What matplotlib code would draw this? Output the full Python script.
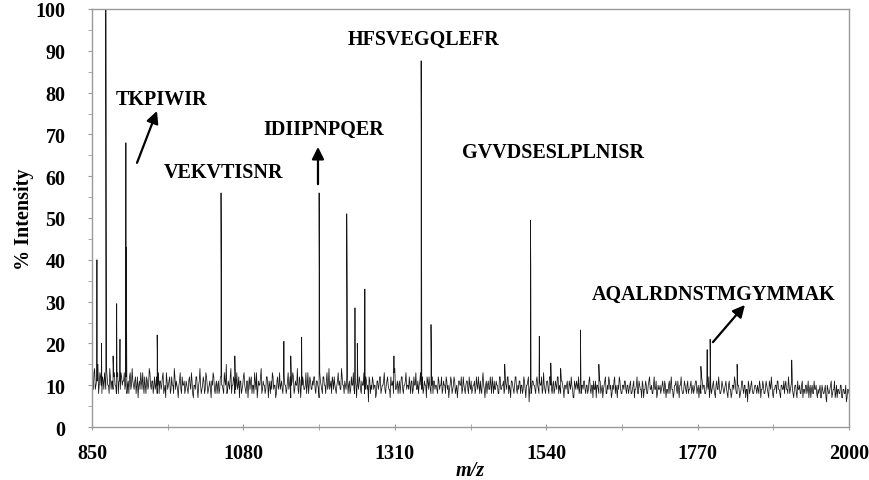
import numpy as np
import matplotlib
matplotlib.use("Agg")
import matplotlib.pyplot as plt

# Baseline noise at even m/z, 850..2000 (rows of 24 values)
baseline_even = [
    12, 9, 14, 10, 11, 8, 13, 10, 12, 9, 11, 14, 10, 8, 12, 11, 9, 13, 10, 12, 8, 11, 13, 10,
    11, 9, 12, 10, 8, 13, 10, 11, 9, 12, 10, 7, 11, 13, 9, 10, 12, 8, 11, 10, 13, 9, 11, 10,
    9, 12, 10, 8, 11, 10, 13, 9, 7, 11, 10, 12, 9, 10, 8, 12, 11, 9, 10, 13, 8, 10, 11, 9,
    10, 8, 12, 9, 11, 7, 10, 12, 9, 10, 14, 8, 10, 11, 9, 12, 8, 10, 9, 11, 13, 9, 10, 8,
    11, 9, 12, 10, 8, 11, 15, 9, 10, 12, 8, 10, 11, 9, 13, 10, 7, 11, 9, 12, 10, 8, 11, 10,
    9, 12, 10, 8, 11, 13, 9, 10, 12, 8, 11, 10, 9, 12, 7, 10, 11, 13, 9, 10, 8, 12, 10, 9,
    11, 8, 12, 10, 9, 13, 10, 7, 11, 12, 9, 10, 14, 8, 11, 10, 12, 9, 10, 8, 13, 10, 11, 9,
    10, 12, 8, 11, 9, 13, 10, 8, 12, 10, 11, 9, 14, 10, 8, 11, 12, 9, 10, 13, 11, 9, 12, 10,
    11, 9, 13, 10, 8, 12, 10, 9, 11, 7, 10, 12, 9, 11, 10, 8, 12, 9, 6, 11, 10, 12, 9, 10,
    8, 11, 10, 12, 9, 10, 13, 8, 11, 10, 9, 12, 10, 8, 14, 9, 11, 10, 8, 12, 9, 10, 11, 9,
    10, 12, 8, 11, 9, 10, 13, 9, 8, 11, 10, 12, 9, 10, 7, 11, 12, 9, 10, 8, 11, 10, 9, 12,
    9, 10, 8, 11, 10, 12, 9, 7, 10, 11, 9, 12, 8, 10, 9, 11, 10, 8, 12, 9, 10, 11, 8, 10,
    11, 9, 10, 8, 12, 9, 10, 11, 8, 13, 9, 10, 8, 11, 9, 10, 12, 8, 9, 11, 10, 8, 12, 9,
    10, 8, 11, 9, 12, 10, 7, 11, 9, 10, 12, 8, 9, 11, 10, 8, 12, 9, 10, 11, 6, 10, 9, 11,
    10, 8, 12, 9, 11, 10, 8, 13, 9, 10, 11, 8, 12, 9, 10, 8, 11, 9, 12, 10, 8, 11, 9, 10,
    9, 11, 8, 10, 12, 9, 7, 10, 11, 9, 8, 12, 10, 9, 11, 8, 10, 9, 12, 8, 10, 11, 9, 7,
    10, 8, 11, 9, 7, 10, 12, 8, 9, 11, 10, 8, 9, 12, 10, 7, 9, 11, 8, 10, 9, 11, 8, 10,
    9, 11, 8, 10, 7, 9, 12, 8, 10, 9, 11, 7, 9, 10, 8, 11, 9, 10, 8, 12, 9, 7, 10, 9,
    8, 10, 9, 11, 7, 9, 10, 8, 12, 9, 8, 10, 9, 11, 7, 10, 9, 8, 11, 9, 10, 8, 9, 11,
    9, 8, 10, 11, 9, 7, 10, 12, 9, 10, 8, 11, 9, 7, 10, 9, 11, 8, 10, 9, 12, 8, 9, 10,
    8, 10, 9, 7, 11, 9, 8, 10, 12, 9, 8, 10, 7, 9, 11, 8, 10, 9, 6, 10, 9, 11, 8, 9,
    10, 8, 9, 11, 7, 9, 10, 8, 11, 9, 7, 10, 12, 8, 9, 10, 8, 11, 9, 7, 10, 9, 8, 11,
    9, 12, 8, 10, 9, 7, 10, 8, 11, 9, 8, 10, 7, 9, 10, 8, 11, 9, 7, 10, 8, 9, 10, 7,
    8, 10, 7, 9, 8, 10, 6, 9, 8, 10, 7, 9, 11, 8, 7, 9, 8, 10, 7, 9, 8, 6, 9, 8,
]

# Baseline noise at odd m/z, 851..1999 (rows of 24 values)
baseline_odd = [
    10, 13, 9, 11, 15, 10, 12, 8, 11, 13, 9, 12, 10, 14, 9, 11, 12, 10, 8, 13, 11, 9, 12, 11,
    13, 10, 8, 11, 12, 9, 14, 10, 11, 8, 12, 10, 9, 11, 13, 8, 10, 12, 9, 14, 10, 11, 8, 12,
    10, 8, 13, 11, 9, 12, 8, 10, 13, 9, 11, 8, 12, 10, 14, 9, 10, 7, 11, 9, 12, 10, 8, 11,
    9, 11, 10, 13, 8, 10, 9, 12, 7, 11, 10, 9, 12, 8, 13, 10, 9, 11, 7, 10, 12, 8, 11, 10,
    8, 12, 10, 9, 13, 10, 8, 11, 9, 14, 10, 12, 8, 10, 9, 12, 11, 8, 10, 13, 9, 11, 7, 12,
    11, 8, 10, 13, 9, 7, 11, 10, 14, 9, 10, 8, 12, 10, 11, 8, 9, 12, 10, 7, 11, 9, 13, 10,
    9, 12, 10, 8, 11, 9, 12, 10, 13, 8, 11, 10, 9, 12, 7, 10, 11, 9, 13, 10, 8, 12, 9, 11,
    12, 9, 11, 10, 7, 11, 9, 12, 10, 8, 13, 10, 9, 11, 12, 9, 10, 8, 11, 10, 9, 14, 10, 8,
    10, 12, 8, 11, 9, 10, 13, 8, 10, 12, 9, 11, 8, 10, 13, 9, 11, 10, 12, 8, 9, 11, 10, 7,
    11, 9, 12, 8, 10, 11, 9, 10, 12, 9, 7, 10, 11, 13, 9, 10, 8, 11, 10, 12, 8, 10, 13, 10,
    9, 10, 11, 8, 12, 10, 9, 11, 10, 13, 9, 8, 11, 10, 12, 9, 10, 8, 12, 11, 9, 10, 8, 11,
    10, 12, 9, 10, 8, 11, 10, 9, 12, 8, 10, 11, 9, 7, 11, 10, 12, 9, 10, 8, 11, 9, 12, 9,
    8, 10, 11, 9, 10, 12, 8, 9, 11, 10, 7, 11, 10, 9, 12, 8, 10, 11, 9, 10, 8, 12, 9, 10,
    11, 9, 10, 12, 8, 9, 11, 10, 8, 12, 9, 10, 11, 8, 10, 9, 11, 7, 10, 12, 9, 8, 11, 10,
    9, 11, 10, 8, 10, 12, 9, 10, 8, 11, 9, 12, 10, 8, 11, 9, 10, 12, 8, 9, 11, 10, 7, 10,
    10, 8, 11, 9, 10, 7, 11, 9, 10, 12, 9, 8, 10, 11, 9, 10, 8, 11, 9, 10, 7, 9, 11, 10,
    9, 11, 8, 10, 9, 11, 8, 10, 12, 9, 7, 10, 11, 8, 9, 10, 12, 9, 8, 10, 11, 9, 10, 8,
    10, 8, 9, 11, 9, 10, 8, 11, 9, 7, 10, 9, 11, 8, 10, 12, 9, 8, 10, 9, 11, 8, 9, 10,
    9, 11, 8, 10, 9, 8, 11, 10, 9, 7, 10, 11, 8, 9, 10, 12, 8, 9, 10, 8, 11, 9, 10, 8,
    10, 9, 11, 8, 10, 9, 8, 11, 10, 8, 9, 10, 12, 9, 8, 10, 9, 7, 11, 9, 10, 8, 11, 9,
    9, 11, 8, 10, 9, 7, 10, 9, 11, 8, 10, 9, 8, 11, 9, 10, 7, 9, 11, 8, 10, 9, 8, 10,
    9, 10, 8, 10, 9, 11, 8, 9, 10, 8, 11, 9, 10, 7, 9, 10, 11, 9, 8, 10, 9, 11, 10, 9,
    8, 10, 9, 11, 8, 9, 10, 7, 9, 10, 8, 11, 9, 8, 10, 9, 7, 10, 9, 8, 11, 9, 8, 9,
    9, 7, 10, 8, 9, 7, 10, 8, 9, 11, 8, 9, 7, 10, 9, 8, 10, 7, 9, 8, 10, 7, 9,
]

# Peaks (m/z, % intensity)
peak_mz = [857.5, 864.5, 871.0, 871.6, 882.0, 887.5, 892.5, 901.5, 902.1, 949.0,
           1046.0, 1046.6, 1067.0, 1141.5, 1152.0, 1168.5, 1195.0, 1195.6, 1237.0, 1237.6,
           1249.5, 1253.0, 1264.5, 1308.7, 1350.0, 1350.6, 1365.0, 1477.0, 1516.0, 1516.6,
           1529.5, 1547.0, 1562.0, 1592.0, 1620.0, 1775.0, 1784.5, 1789.0, 1830.0, 1913.0]
peak_int = [40, 20, 100, 52, 17, 29.5, 21, 68, 43, 22,
            56, 34, 17, 20.5, 17, 21.5, 56, 33, 51, 34,
            28.5, 20, 33, 17, 87.6, 60, 24.5, 15, 49.5, 38,
            21.7, 15.3, 14, 23.2, 15, 14.5, 18.5, 21, 15, 16]

# Peptide annotations: label, text position, arrow (tail, head) or None
labels = ["TKPIWIR", "VEKVTISNR", "IDIIPNPQER", "HFSVEGQLEFR", "GVVDSESLPLNISR", "AQALRDNSTMGYMMAK"]
label_mz = [956, 1050.5, 1201.7, 1353.6, 1550.3, 1794]
label_int = [78.5, 61, 71.3, 92.8, 65.8, 31.8]
arrows = [((918.4, 63.2), (948.7, 75.6)), None, ((1193.3, 58.1), (1193.3, 67.0)),
          None, None, ((1793.3, 20.3), (1841.9, 29.2))]

x_ticks = [850, 1080, 1310, 1540, 1770, 2000]
y_ticks = list(range(0, 101, 10))

# Build spectrum
ex = 850 + 2 * np.arange(len(baseline_even))
ox = 851 + 2 * np.arange(len(baseline_odd))
mz = np.concatenate([ex, ox, np.array(peak_mz)])
inten = np.concatenate([np.array(baseline_even, float), np.array(baseline_odd, float),
                        np.array(peak_int, float)])
order = np.argsort(mz, kind="stable")
mz, inten = mz[order], inten[order]

plt.rcParams['font.family'] = ['Liberation Serif', 'DejaVu Serif']
plt.rcParams['font.weight'] = 'bold'

fig = plt.figure(figsize=(8.69, 4.81), dpi=100)
ax = fig.add_axes([92/869, 1-428/481, (849-92)/869, (428-10)/481])

ax.plot(mz, inten, color='#151515', lw=0.55)

ax.set_xlim(850, 2000)
ax.set_ylim(0, 100)
ax.set_xticks(x_ticks)
ax.set_xticks([965, 1195, 1425, 1655, 1885], minor=True)
ax.set_yticks(y_ticks)
ax.set_yticks(list(range(5, 100, 10)), minor=True)
ax.set_xticklabels([str(v) for v in x_ticks], fontsize=14.5, fontweight='bold')
ax.set_yticklabels([str(v) for v in y_ticks], fontsize=14.5, fontweight='bold')

for s in ax.spines.values():
    s.set_color('#9a9a9a')
    s.set_linewidth(1.0)
ax.tick_params(axis='y', which='both', direction='out', length=3, color='#9a9a9a', pad=16)
ax.tick_params(axis='x', which='both', direction='inout', length=5, color='#9a9a9a', pad=9)

ax.set_ylabel('% Intensity', fontsize=14.5, fontweight='bold', labelpad=1)
ax.set_xlabel('m/z', fontsize=14.5, fontweight='bold', fontstyle='italic', labelpad=-2)

for lab, lx, ly, arr in zip(labels, label_mz, label_int, arrows):
    ax.text(lx, ly, lab, fontsize=14.5, fontweight='bold', ha='center', va='center')
    if arr is not None:
        ax.annotate('', xy=arr[1], xytext=arr[0],
                    arrowprops=dict(arrowstyle='-|>', color='black', lw=1.6,
                                    mutation_scale=18, shrinkA=0, shrinkB=0))

fig.savefig('out.png', dpi=100)
